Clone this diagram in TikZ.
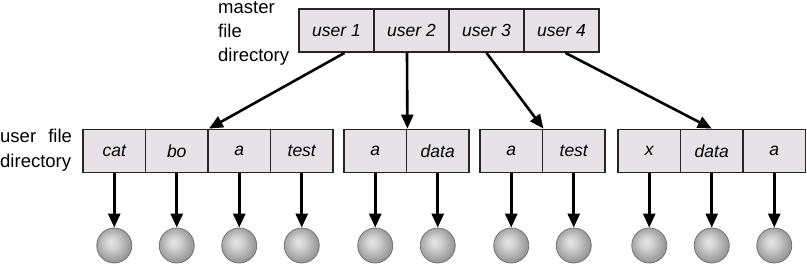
\documentclass[tikz,border=0pt]{standalone}
\usepackage{fontspec}
\setmainfont{Liberation Sans}
\usetikzlibrary{arrows.meta}
\definecolor{cellgray}{HTML}{E6E2E6}
\pgfdeclareradialshading{filesphere}{\pgfpoint{-5bp}{5bp}}{color(0bp)=(black!10); color(9bp)=(black!18); color(20bp)=(black!33); color(27bp)=(black!42); color(50bp)=(black!42)}

\begin{document}
\begin{tikzpicture}[x=1pt,y=1pt,>={Triangle[length=14pt,width=12pt]},
  cell/.style={draw=black!85,line width=1.8pt,fill=cellgray,inner sep=0pt,minimum height=43pt,font=\itshape\fontsize{17.5}{21}\selectfont},
  file/.style={circle,draw=black!55,line width=0.8pt,shading=filesphere,minimum size=35pt,inner sep=0pt},
  link/.style={->,line width=2.6pt},
  label/.style={inner sep=0pt,align=left,font=\fontsize{18.5}{22.5}\selectfont}]
\useasboundingbox (0,0) rectangle (807,263);
% ---- labels ----
\node[label,anchor=north west] (mfdlabel) at (218,262) {master\\[1.5pt]file\\[1.5pt]directory};
\node[label,anchor=north west] (ufdlabel) at (0,134) {user\hspace{7pt} file\\[2pt]directory};
% ---- master file directory ----
\foreach \i/\xx in {1/336.5,2/411.5,3/486.5,4/561.5}
  \node[cell,minimum width=75pt] (m\i) at (\xx,232.5) {user \i};
% ---- user file directories + files ----
\foreach \g/\c/\xx/\txt in {1/1/114.25/cat,1/2/176.75/bo,1/3/239.25/a,1/4/301.75/test,
    2/1/375.25/a,2/2/437.75/data,3/1/511.25/a,3/2/573.75/test,
    4/1/649.25/x,4/2/711.75/data,4/3/774.25/a} {
  \node[cell,minimum width=62.5pt] (u\g-\c) at (\xx,112) {\txt};
  \node[file] (f\g-\c) at (\xx,17.5) {};
  \draw[link] (u\g-\c) -- (f\g-\c);
}
% ---- master -> user directories ----
\draw[link] ([xshift=8pt]m1.south) -- (u1-2.north east);
\draw[link] ([xshift=-4.5pt]m2.south) -- (u2-1.north east);
\draw[link] (m3.south) -- (u3-1.north east);
\draw[link] ([xshift=4pt]m4.south) -- (u4-2.north);
\end{tikzpicture}
\end{document}
